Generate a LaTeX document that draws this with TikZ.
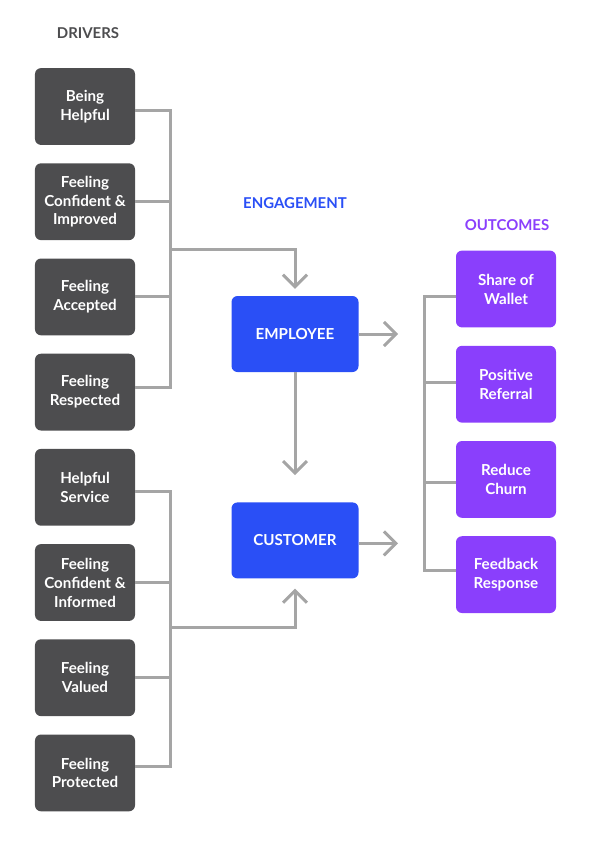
\documentclass[tikz,border=0pt]{standalone}
\usepackage{fontspec}
\setmainfont{Lato}
\usetikzlibrary{positioning,arrows.meta}
\definecolor{driverc}{HTML}{4D4D4F}
\definecolor{engc}{HTML}{2A4FF6}
\definecolor{outc}{HTML}{8A3FFC}
\definecolor{linkc}{HTML}{A5A5A5}
\begin{document}
\begin{tikzpicture}[x=1bp,y=-1bp,node distance=18bp]
			\tikzstyle{box} = [rectangle, rounded corners=6bp, align=center, text=white, font=\fontsize{15.2}{19}\selectfont\bfseries, minimum width=100bp, minimum height=76.8bp, inner sep=0pt];
			\tikzstyle{driver} = [box, fill=driverc];
			\tikzstyle{engage} = [box, fill=engc, minimum width=127bp, minimum height=76bp];
			\tikzstyle{outcome} = [box, fill=outc];
			\tikzstyle{head} = [font=\fontsize{15}{18}\selectfont\bfseries];
			\tikzstyle{link} = [draw=linkc, line width=3bp];
			\tikzstyle{arrow} = [link, -{Straight Barb[length=12bp,width=24bp]}];
			\useasboundingbox (0,0) rectangle (590,849);
			\node (drivers) [head, text=driverc] at (88,33) {DRIVERS};
			\node (d1) [driver] at (85,106.5) {Being\\Helpful};
			\node (d2) [driver, below=of d1] {Feeling\\Confident \&\\Improved};
			\node (d3) [driver, below=of d2] {Feeling\\Accepted};
			\node (d4) [driver, below=of d3] {Feeling\\Respected};
			\node (d5) [driver, below=of d4] {Helpful\\Service};
			\node (d6) [driver, below=of d5] {Feeling\\Confident \&\\Informed};
			\node (d7) [driver, below=of d6] {Feeling\\Valued};
			\node (d8) [driver, below=of d7] {Feeling\\Protected};
			\node (engagement) [head, text=engc] at (295,203) {ENGAGEMENT};
			\node (emp) [engage] at (295,334) {EMPLOYEE};
			\node (cust) [engage, below=130bp of emp] {CUSTOMER};
			\node (outcomes) [head, text=outc] at (507,225) {OUTCOMES};
			\node (o1) [outcome] at (506,289) {Share of\\Wallet};
			\node (o2) [outcome, below=of o1] {Positive\\Referral};
			\node (o3) [outcome, below=of o2] {Reduce\\Churn};
			\node (o4) [outcome, below=of o3] {Feedback\\Response};
			\coordinate (ubus) at (170,249);
			\coordinate (lbus) at (170,627);
			\coordinate (obus) at (424,433);
			% employee drivers
			\draw [link] ([yshift=-4bp]d1.east) -| (ubus) |- ([yshift=5bp]d4.east);
			\draw [link] (d2.east) -- (d2.east -| ubus);
			\draw [link] (d3.east) -- (d3.east -| ubus);
			\draw [arrow, shorten >=7bp] (ubus) -| (emp.north);
			% customer drivers
			\draw [link] ([yshift=-4bp]d5.east) -| (lbus) |- ([yshift=6bp]d8.east);
			\draw [link] (d6.east) -- (d6.east -| lbus);
			\draw [link] (d7.east) -- (d7.east -| lbus);
			\draw [arrow, shorten >=10bp] (lbus) -| (cust.south);
			\draw [arrow, shorten >=27bp] (emp.south) -- (cust.north);
			% outcomes
			\draw [arrow, shorten >=26bp] (emp.east) -- (emp.east -| obus);
			\draw [arrow, shorten >=26bp] ([yshift=-3bp]cust.east) -- ([yshift=-3bp]cust.east -| obus);
			\draw [link] ([yshift=-7bp]o1.west) -| (obus) |- ([yshift=4bp]o4.west);
			\draw [link] ([yshift=2bp]o2.west) -- ([yshift=2bp]o2.west -| obus);
			\draw [link] ([yshift=-3bp]o3.west) -- ([yshift=-3bp]o3.west -| obus);
		\end{tikzpicture}
\end{document}
